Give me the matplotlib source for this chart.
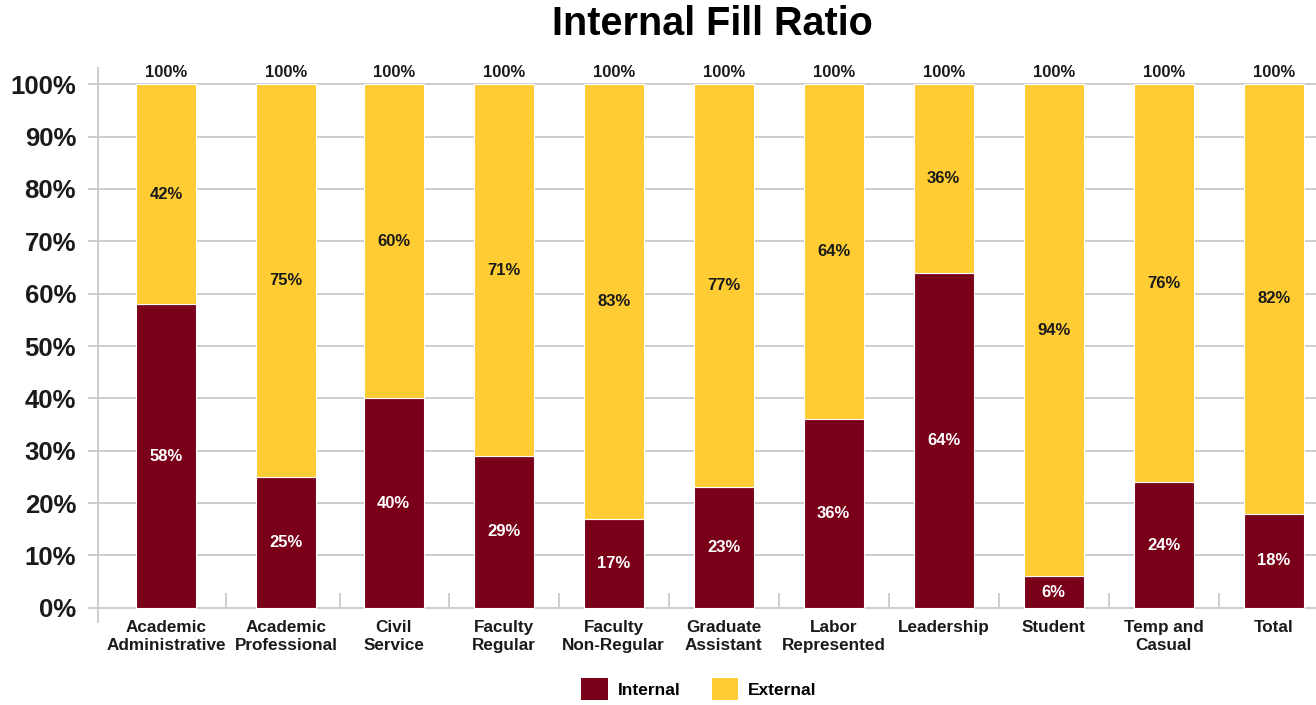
import numpy as np
import matplotlib
matplotlib.use("Agg")
import matplotlib.pyplot as plt
from matplotlib.patches import Patch

# Internal vs. external fill share by job family (percent)
categories = [
    "Academic\nAdministrative", "Academic\nProfessional", "Civil\nService",
    "Faculty\nRegular", "Faculty\nNon-Regular", "Graduate\nAssistant",
    "Labor\nRepresented", "Leadership", "Student", "Temp and\nCasual", "Total",
]
internal = [58, 25, 40, 29, 17, 23, 36, 64, 6, 24, 18]
external = [42, 75, 60, 71, 83, 77, 64, 36, 94, 76, 82]
yticks = [0, 10, 20, 30, 40, 50, 60, 70, 80, 90, 100]
series_names = ["Internal", "External"]

MAROON = "#7a0019"
GOLD = "#ffcc33"
GRID = "#c9c9c9"
TEXT = "#1a1a1a"
FONT = "Liberation Sans"

plt.rcParams["font.family"] = [FONT, "DejaVu Sans"]
plt.rcParams["font.weight"] = "bold"

W, H = 1316, 705
fig = plt.figure(figsize=(W / 100, H / 100), dpi=100)
ax = fig.add_axes([98 / W, (H - 622) / H, (W - 98) / W, (622 - 68) / H])

# slot centres (first slot slightly wider)
gaps = [1.09, 0.98] + [1.0] * 8
xpos = np.concatenate([[0.0], np.cumsum(gaps)])
width = 0.545

internal = np.array(internal, dtype=float)
external = np.array(external, dtype=float)

ax.bar(xpos, internal, width, color=MAROON, edgecolor="white", linewidth=0.8, zorder=3)
ax.bar(xpos, external, width, bottom=internal, color=GOLD, edgecolor="white",
       linewidth=0.8, zorder=3)

ax.set_xlim(-0.618, 10.4545)
ax.set_ylim(-2.7, 103.1)
ax.set_yticks(yticks)
ax.set_yticklabels([f"{v}%" for v in yticks], fontsize=18.5, fontweight="bold", color=TEXT)
ax.yaxis.grid(True, color=GRID, linewidth=1.3, zorder=0)
ax.set_axisbelow(True)
ax.tick_params(axis="y", length=7.2, width=1.3, color=GRID, pad=8.6)
ax.set_xticks([])
for side in ["top", "right", "bottom"]:
    ax.spines[side].set_visible(False)
ax.spines["left"].set_color(GRID)
ax.spines["left"].set_linewidth(1.3)

# separators between categories, rising from the baseline
seps = (xpos[:-1] + xpos[1:]) / 2
ax.vlines(seps, 0, 2.9, color=GRID, linewidth=1.3, zorder=2)

for x, a, b, lab in zip(xpos, internal, external, categories):
    ax.text(x, a / 2, f"{a:.0f}%", ha="center", va="center", color="white",
            fontsize=12, fontweight="bold", zorder=4)
    ax.text(x, a + b / 2, f"{b:.0f}%", ha="center", va="center", color=TEXT,
            fontsize=12, fontweight="bold", zorder=4)
    ax.annotate(f"{a + b:.0f}%", (x, a + b), xytext=(0, 3), textcoords="offset points",
                ha="center", va="bottom", color=TEXT, fontsize=12, fontweight="bold")
    ax.annotate(lab, (x, 0), xytext=(0, -8.5), textcoords="offset points",
                ha="center", va="top", color=TEXT, fontsize=12.3, fontweight="bold",
                linespacing=1.3, annotation_clip=False)

fig.text(712 / W, 1 - 24 / H, "Internal Fill Ratio", ha="center", va="center",
         fontsize=28.5, fontweight="bold", color="black")

handles = [Patch(facecolor=MAROON), Patch(facecolor=GOLD)]
fig.legend(handles, series_names, loc="center", bbox_to_anchor=(699 / W, 1 - 689 / H),
           ncol=2, frameon=False, handlelength=1.5, handleheight=1.5,
           handletextpad=0.57, columnspacing=1.84,
           prop={"family": FONT, "weight": "bold", "size": 12.5})

fig.savefig("out.png", dpi=100)
